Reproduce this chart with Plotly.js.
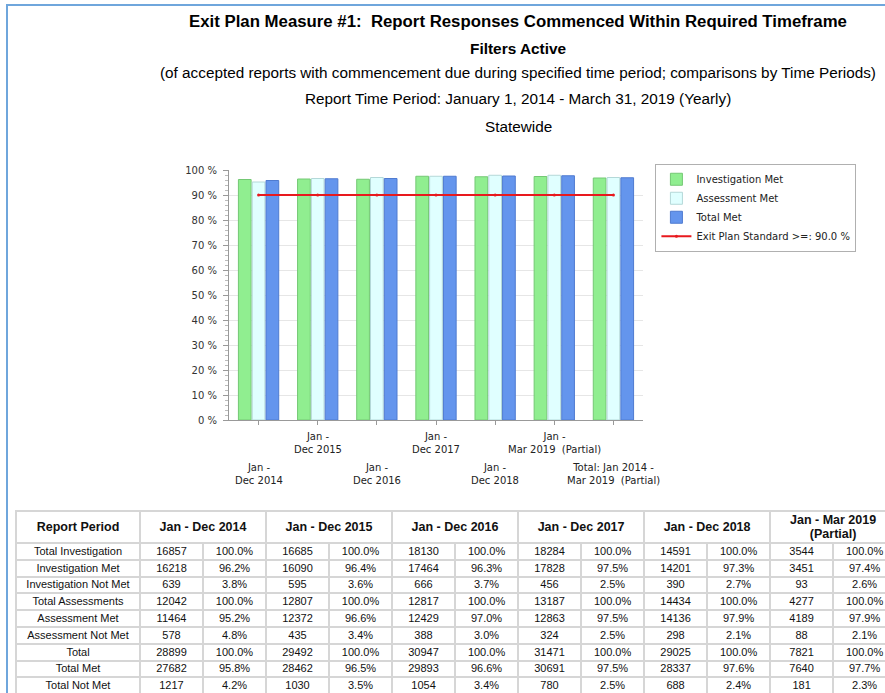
<!DOCTYPE html>
<html>
<head>
<meta charset="utf-8">
<script src="https://cdn.plot.ly/plotly-3.0.1.min.js"></script>
<style>
  html, body { margin:0; padding:0; width:885px; height:693px; overflow:hidden; background:#fff; position:relative; }
  #frameTop { position:absolute; left:6px; top:4px; width:879px; height:2px; background:#6fa6dc; }
  #frameLeft { position:absolute; left:6px; top:4px; width:2px; height:689px; background:#6fa6dc; }
  #chart { position:absolute; left:0; top:0; width:885px; height:505px; }
  #tbl { position:absolute; left:15px; top:510px; width:880px; border-collapse:collapse; table-layout:fixed; font-family:"Liberation Sans", Arial, sans-serif; color:#111; }
  #tbl td, #tbl th { border:2px solid #d6d6d6; text-align:center; padding:0; overflow:hidden; white-space:nowrap; }
  #tbl th { font-weight:bold; font-size:12.5px; height:30px; line-height:14px; }
  #tbl td { font-size:11px; height:14.8px; line-height:13px; }
</style>
</head>
<body>
<div id="chart"></div>
<div id="frameTop"></div>
<div id="frameLeft"></div>
<table id="tbl"></table>
<script>
// ---- chart data ----
const categories = ["Jan - Dec 2014","Jan - Dec 2015","Jan - Dec 2016","Jan - Dec 2017","Jan - Dec 2018","Jan - Mar 2019 (Partial)","Total: Jan 2014 - Mar 2019 (Partial)"];
const tickLabels = ["Jan -<br>Dec 2014","Jan -<br>Dec 2015","Jan -<br>Dec 2016","Jan -<br>Dec 2017","Jan -<br>Dec 2018","Jan -<br>Mar 2019  (Partial)","Total: Jan 2014 -<br>Mar 2019  (Partial)"];
const investigationMet = [96.2, 96.4, 96.3, 97.5, 97.3, 97.4, 96.8];
const assessmentMet    = [95.2, 96.6, 97.0, 97.5, 97.9, 97.9, 97.0];
const totalMet         = [95.8, 96.5, 96.6, 97.5, 97.6, 97.7, 96.9];
const exitPlanStandard = [90, 90, 90, 90, 90, 90, 90];

// ---- table data ----
const tableRowLabels = ["Total Investigation","Investigation Met","Investigation Not Met","Total Assessments","Assessment Met","Assessment Not Met","Total","Total Met","Total Not Met"];
const tablePeriods = ["Jan - Dec 2014","Jan - Dec 2015","Jan - Dec 2016","Jan - Dec 2017","Jan - Dec 2018","Jan - Mar 2019<br>(Partial)"];
const count2014 = [16857,16218,639,12042,11464,578,28899,27682,1217];
const pct2014   = ["100.0%","96.2%","3.8%","100.0%","95.2%","4.8%","100.0%","95.8%","4.2%"];
const count2015 = [16685,16090,595,12807,12372,435,29492,28462,1030];
const pct2015   = ["100.0%","96.4%","3.6%","100.0%","96.6%","3.4%","100.0%","96.5%","3.5%"];
const count2016 = [18130,17464,666,12817,12429,388,30947,29893,1054];
const pct2016   = ["100.0%","96.3%","3.7%","100.0%","97.0%","3.0%","100.0%","96.6%","3.4%"];
const count2017 = [18284,17828,456,13187,12863,324,31471,30691,780];
const pct2017   = ["100.0%","97.5%","2.5%","100.0%","97.5%","2.5%","100.0%","97.5%","2.5%"];
const count2018 = [14591,14201,390,14434,14136,298,29025,28337,688];
const pct2018   = ["100.0%","97.3%","2.7%","100.0%","97.9%","2.1%","100.0%","97.6%","2.4%"];
const count2019 = [3544,3451,93,4277,4189,88,7821,7640,181];
const pct2019   = ["100.0%","97.4%","2.6%","100.0%","97.9%","2.1%","100.0%","97.7%","2.3%"];

const FONT = "DejaVu Sans, Verdana, sans-serif";
const AR = "Liberation Sans, Arial, sans-serif";

const traces = [
  { type:"bar", name:"Investigation Met", x:categories, y:investigationMet,
    marker:{ color:"#90ee90", line:{ color:"#74c874", width:1 } } },
  { type:"bar", name:"Assessment Met", x:categories, y:assessmentMet,
    marker:{ color:"#e0ffff", line:{ color:"#b4d8d8", width:1 } } },
  { type:"bar", name:"Total Met", x:categories, y:totalMet,
    marker:{ color:"#6495ed", line:{ color:"#4f7bd0", width:1 } } },
  { type:"scatter", mode:"lines+markers", name:"Exit Plan Standard >=: 90.0 %", x:categories, y:exitPlanStandard,
    line:{ color:"#e8191e", width:2 }, marker:{ color:"#e8191e", size:3 } }
];

const annotations = [];
const subtitles = [
  { text:"<b>Filters Active</b>", y:48, size:15.4 },
  { text:"(of accepted reports with commencement due during specified time period; comparisons by Time Periods)", y:72, size:15.3 },
  { text:"Report Time Period: January 1, 2014 - March 31, 2019 (Yearly)", y:99, size:15.3 },
  { text:"Statewide", y:126, size:15.3 }
];
subtitles.forEach(s => annotations.push({
  text:s.text, xref:"paper", yref:"paper", x:(518-229)/414, y:(420-s.y)/250,
  xanchor:"center", yanchor:"middle", showarrow:false,
  font:{ family:AR, size:s.size, color:"#000" }
}));
categories.forEach((c, i) => annotations.push({
  text:tickLabels[i], xref:"x", yref:"paper", x:c, y:(i % 2 === 1) ? -0.035 : -0.158,
  xanchor:"center", yanchor:"top", showarrow:false, align:"center",
  font:{ family:FONT, size:10, color:"#222" }
}));

const layout = {
  width:885, height:505,
  margin:{ l:229, r:242, t:170, b:85 },
  paper_bgcolor:"rgba(0,0,0,0)", plot_bgcolor:"#fff",
  title:{ text:"<b>Exit Plan Measure #1:  Report Responses Commenced Within Required Timeframe</b>",
    x:518/885, xanchor:"center", xref:"container", y:1-21/505, yref:"container", yanchor:"middle",
    font:{ family:AR, size:16.8, color:"#000" } },
  barmode:"group", bargap:0.3, bargroupgap:0.08,
  showlegend:true,
  legend:{ x:1.03, xanchor:"left", y:1.025, yanchor:"top", bordercolor:"#b0b0b0", borderwidth:1,
    bgcolor:"#fff", font:{ family:FONT, size:10, color:"#222" }, traceorder:"normal", tracegroupgap:0, itemwidth:30 },
  xaxis:{ type:"category", showticklabels:false, ticks:"outside", ticklen:4, tickcolor:"#999",
    showline:true, linecolor:"#999", showgrid:false, range:[-0.5, 6.5] },
  yaxis:{ range:[0,100], dtick:10, ticksuffix:" %", ticks:"outside", ticklen:5, tickcolor:"#999",
    ticklabelstandoff:4,
    showline:true, linecolor:"#999", gridcolor:"#e6e6e6", zeroline:false,
    tickfont:{ family:FONT, size:10, color:"#333" },
    minor:{ dtick:2, ticks:"outside", ticklen:3, tickcolor:"#bbb", showgrid:false } },
  annotations:annotations
};

Plotly.newPlot("chart", traces, layout, { displayModeBar:false, staticPlot:true });

// ---- build table ----
const tbl = document.getElementById("tbl");
const colgroup = document.createElement("colgroup");
let cg = '<col style="width:124px">';
for (let i = 0; i < 12; i++) cg += '<col style="width:63px">';
colgroup.innerHTML = cg;
tbl.appendChild(colgroup);
let html = "<tr><th>Report Period</th>";
tablePeriods.forEach(p => { html += '<th colspan="2">' + p + "</th>"; });
html += "</tr>";
const counts = [count2014, count2015, count2016, count2017, count2018, count2019];
const pcts = [pct2014, pct2015, pct2016, pct2017, pct2018, pct2019];
tableRowLabels.forEach((lab, r) => {
  html += "<tr><td>" + lab + "</td>";
  counts.forEach((c, k) => { html += "<td>" + c[r] + "</td><td>" + pcts[k][r] + "</td>"; });
  html += "</tr>";
});
tbl.insertAdjacentHTML("beforeend", html);
</script>
</body>
</html>
